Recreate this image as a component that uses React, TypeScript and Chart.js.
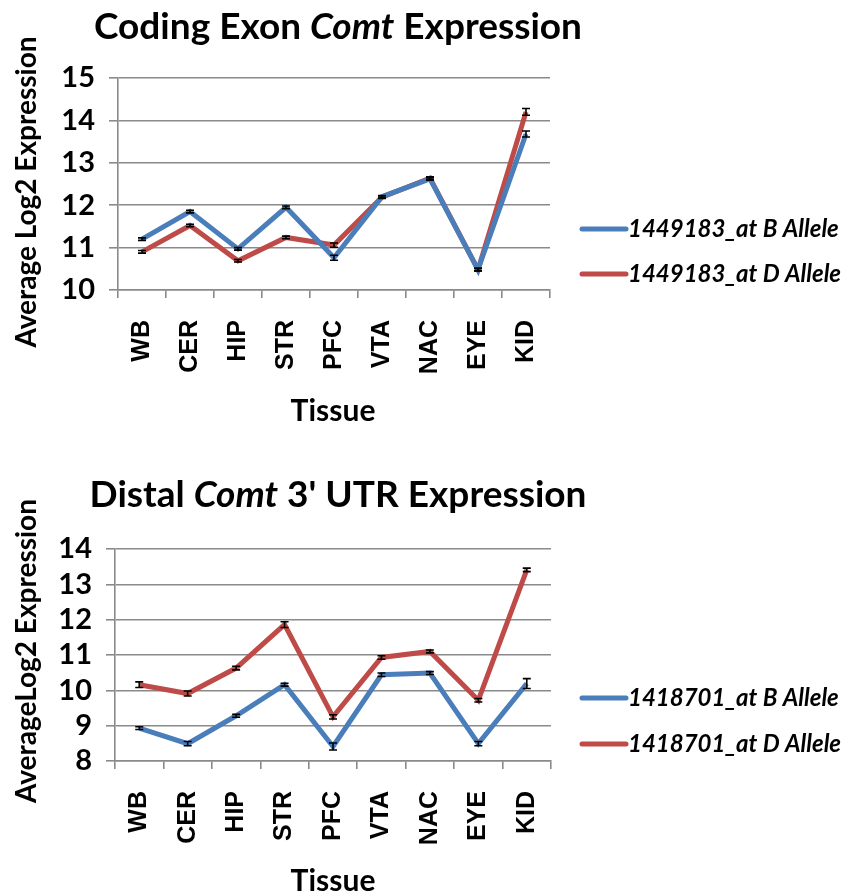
import React, { useEffect, useRef } from "react";
import { Chart, registerables } from "chart.js";

Chart.register(...registerables);

// ---------- data ----------
const tissues = ["WB", "CER", "HIP", "STR", "PFC", "VTA", "NAC", "EYE", "KID"];

const exonLabels = ["1449183_at B Allele", "1449183_at D Allele"];
const exonB = [11.2, 11.85, 10.97, 11.95, 10.76, 12.2, 12.62, 10.48, 13.68];
const exonD = [10.9, 11.52, 10.69, 11.24, 11.06, 12.19, 12.64, 10.48, 14.2];
const exonBErr = [0.03, 0.03, 0.03, 0.03, 0.06, 0.03, 0.03, 0.03, 0.07];
const exonDErr = [0.03, 0.03, 0.03, 0.03, 0.05, 0.03, 0.03, 0.03, 0.08];
const exonRange = [10, 15];

const utrLabels = ["1418701_at B Allele", "1418701_at D Allele"];
const utrB = [8.93, 8.49, 9.28, 10.16, 8.41, 10.44, 10.49, 8.49, 10.19];
const utrD = [10.16, 9.91, 10.63, 11.86, 9.25, 10.93, 11.1, 9.72, 13.41];
const utrBErr = [0.04, 0.06, 0.04, 0.04, 0.1, 0.05, 0.04, 0.06, 0.14];
const utrDErr = [0.08, 0.07, 0.05, 0.08, 0.06, 0.05, 0.04, 0.05, 0.05];
const utrRange = [8, 14];

// ---------- styling ----------
const BLUE = "#4A7EBB";
const RED = "#BE4B48";
const GRID = "#8a8a8a";
const W = 850;
const H = 448;
const CAL = "Lato, 'Open Sans', sans-serif";
const ARIAL = "'Liberation Sans', Arial, sans-serif";

type Seg = { text: string; italic?: boolean };

interface Spec {
  title: Seg[];
  yTitle: string;
  labels: string[];
  series: number[][];
  errors: number[][];
  range: number[];
  plot: { left: number; right: number; top: number; bottom: number };
  titleY: number;
  yTitleY: number;
  xTitleY: number;
  legendY: number[];
}

const overlayPlugin = {
  id: "overlay",
  afterDatasetsDraw(chart: any, _args: any, opts: any) {
    const ctx = chart.ctx as CanvasRenderingContext2D;
    const xs = chart.scales.x;
    const ys = chart.scales.y;
    ctx.save();
    ctx.strokeStyle = "#000";
    ctx.lineWidth = 1.6;
    (opts.errors as number[][]).forEach((errs, di) => {
      const ds = chart.data.datasets[di];
      ds.data.forEach((v: number, i: number) => {
        const e = errs[i];
        const x = xs.getPixelForValue(i);
        const y1 = ys.getPixelForValue(v - e);
        const y2 = ys.getPixelForValue(v + e);
        ctx.beginPath();
        ctx.moveTo(x, y1);
        ctx.lineTo(x, y2);
        ctx.moveTo(x - 4, y1);
        ctx.lineTo(x + 4, y1);
        ctx.moveTo(x - 4, y2);
        ctx.lineTo(x + 4, y2);
        ctx.stroke();
      });
    });
    ctx.restore();
  },
  afterDraw(chart: any, _args: any, opts: any) {
    const ctx = chart.ctx as CanvasRenderingContext2D;
    const spec: Spec = opts.spec;
    ctx.save();
    ctx.fillStyle = "#000";
    const tSize = 37;
    const fontFor = (s: Seg) => `${s.italic ? "italic " : ""}bold ${tSize}px ${CAL}`;
    let total = 0;
    spec.title.forEach((s) => {
      ctx.font = fontFor(s);
      total += ctx.measureText(s.text).width;
    });
    let x = 338 - total / 2;
    ctx.textBaseline = "alphabetic";
    ctx.textAlign = "left";
    spec.title.forEach((s) => {
      ctx.font = fontFor(s);
      ctx.fillText(s.text, x, spec.titleY);
      x += ctx.measureText(s.text).width;
    });
    // y axis title
    ctx.save();
    ctx.translate(27, spec.yTitleY);
    ctx.rotate(-Math.PI / 2);
    ctx.font = `bold 28px ${CAL}`;
    ctx.textAlign = "center";
    ctx.textBaseline = "middle";
    ctx.fillText(spec.yTitle, 0, 0);
    ctx.restore();
    // x axis title
    ctx.font = `bold 30px ${CAL}`;
    ctx.textAlign = "center";
    ctx.textBaseline = "alphabetic";
    ctx.fillText("Tissue", 333, spec.xTitleY);
    // legend
    chart.data.datasets.forEach((ds: any, i: number) => {
      const ly = spec.legendY[i];
      ctx.strokeStyle = ds.borderColor;
      ctx.lineWidth = 5;
      ctx.lineCap = "round";
      ctx.beginPath();
      ctx.moveTo(582, ly);
      ctx.lineTo(626, ly);
      ctx.stroke();
      ctx.fillStyle = "#000";
      ctx.font = `italic bold 24px ${CAL}`;
      ctx.textAlign = "left";
      ctx.textBaseline = "middle";
      ctx.fillText(ds.label, 628, ly);
    });
    ctx.restore();
  },
};

function makeConfig(spec: Spec, legendLabels: string[]): any {
  const colors = [BLUE, RED];
  return {
    type: "line",
    data: {
      labels: spec.labels,
      datasets: spec.series.map((s, i) => ({
        label: legendLabels[i],
        data: s,
        borderColor: colors[i],
        backgroundColor: colors[i],
        borderWidth: 5,
        pointRadius: 0,
        tension: 0,
        fill: false,
      })),
    },
    options: {
      animation: false,
      responsive: false,
      devicePixelRatio: 1,
      layout: {
        padding: { left: 0, top: spec.plot.top, right: W - spec.plot.right, bottom: 0 },
      },
      plugins: {
        legend: { display: false },
        title: { display: false },
        tooltip: { enabled: false },
        overlay: { spec, errors: spec.errors },
      },
      scales: {
        x: {
          type: "category",
          offset: true,
          afterFit(s: any) {
            s.height = H - spec.plot.bottom;
          },
          grid: {
            offset: true,
            drawOnChartArea: false,
            drawTicks: true,
            tickLength: 8,
            color: GRID,
            lineWidth: 1.6,
          },
          border: { display: true, color: GRID, width: 1.6 },
          ticks: {
            autoSkip: false,
            minRotation: 90,
            maxRotation: 90,
            padding: 22,
            color: "#000",
            font: { family: ARIAL, size: 25, weight: "bold" },
          },
        },
        y: {
          min: spec.range[0],
          max: spec.range[1],
          afterFit(s: any) {
            s.width = spec.plot.left;
          },
          grid: {
            drawTicks: true,
            tickLength: 9,
            color: GRID,
            lineWidth: 1.6,
          },
          border: { display: true, color: GRID, width: 1.6 },
          ticks: {
            stepSize: 1,
            autoSkip: false,
            padding: 14,
            color: "#000",
            font: { family: CAL, size: 29, weight: "bold", lineHeight: 1 },
          },
        },
      },
    },
    plugins: [overlayPlugin],
  };
}

const exonSpec: Spec = {
  title: [{ text: "Coding Exon " }, { text: "Comt", italic: true }, { text: " Expression" }],
  yTitle: "Average Log2 Expression",
  labels: tissues,
  series: [exonB, exonD],
  errors: [exonBErr, exonDErr],
  range: exonRange,
  plot: { left: 118, right: 550, top: 78, bottom: 290 },
  titleY: 39,
  yTitleY: 192,
  xTitleY: 421,
  legendY: [229, 274],
};

const utrSpec: Spec = {
  title: [{ text: "Distal " }, { text: "Comt", italic: true }, { text: " 3' UTR Expression" }],
  yTitle: "AverageLog2 Expression",
  labels: tissues,
  series: [utrB, utrD],
  errors: [utrBErr, utrDErr],
  range: utrRange,
  plot: { left: 115, right: 551, top: 101, bottom: 313 },
  titleY: 59,
  yTitleY: 203,
  xTitleY: 443,
  legendY: [250, 296],
};

function ChartCanvas({ spec, legend }: { spec: Spec; legend: string[] }) {
  const ref = useRef<HTMLCanvasElement | null>(null);
  useEffect(() => {
    if (!ref.current) return;
    const chart = new Chart(ref.current, makeConfig(spec, legend));
    return () => chart.destroy();
  }, [spec, legend]);
  return <canvas ref={ref} width={W} height={H} style={{ display: "block", width: W, height: H }} />;
}

export default function App() {
  return (
    <div style={{ position: "absolute", left: 0, top: 0, width: W, height: H * 2, background: "#fff" }}>
      <ChartCanvas spec={exonSpec} legend={exonLabels} />
      <ChartCanvas spec={utrSpec} legend={utrLabels} />
    </div>
  );
}
